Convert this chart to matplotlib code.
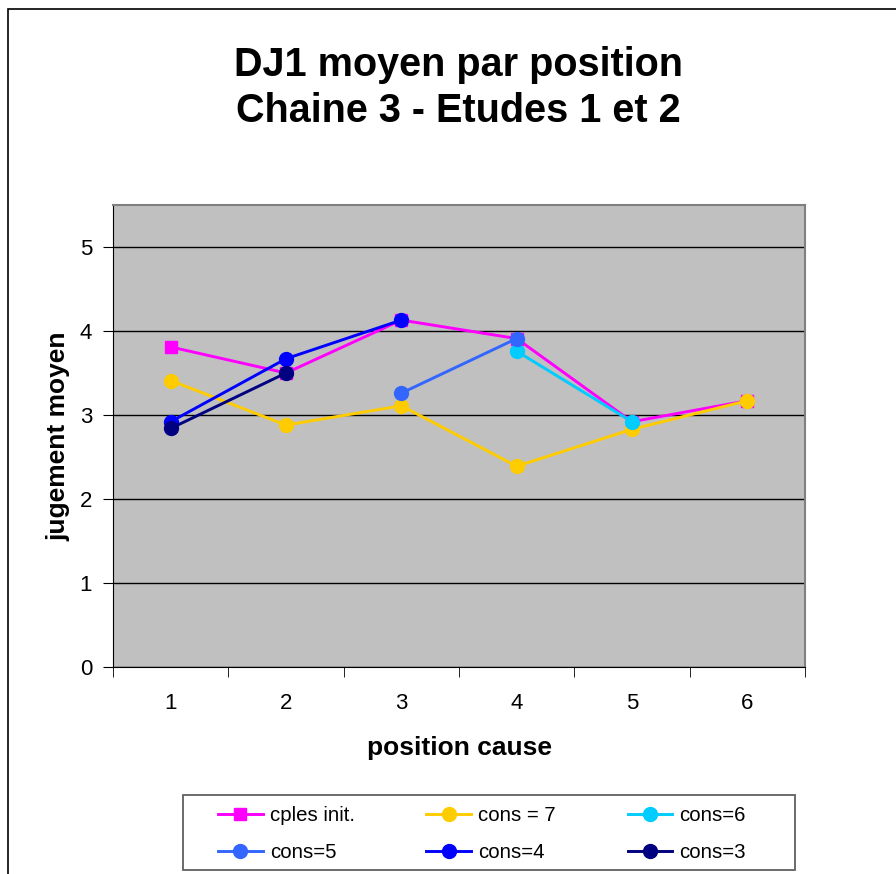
import numpy as np
import matplotlib
matplotlib.use("Agg")
import matplotlib.pyplot as plt
from matplotlib.patches import Rectangle

plt.rcParams["font.family"] = ["Liberation Sans", "DejaVu Sans"]

positions = [1, 2, 3, 4, 5, 6]
nan = np.nan

cples_init = [3.81, 3.50, 4.13, 3.91, 2.92, 3.17]
cons7 = [3.41, 2.88, 3.11, 2.39, 2.83, 3.17]
cons6 = [nan, nan, nan, 3.76, 2.92, nan]
cons5 = [nan, nan, 3.26, 3.91, nan, nan]
cons4 = [2.92, 3.67, 4.13, nan, nan, nan]
cons3 = [2.84, 3.50, nan, nan, nan, nan]

series_names = ["cples init.", "cons = 7", "cons=6", "cons=5", "cons=4", "cons=3"]
series_values = [cples_init, cons7, cons6, cons5, cons4, cons3]
series_colors = ["#FF00FF", "#FFCC00", "#00CCFF", "#3366FF", "#0000FF", "#000080"]
series_markers = ["s", "o", "o", "o", "o", "o"]


def main():
    fig = plt.figure(figsize=(8.96, 8.74), dpi=100)
    fig.patch.set_facecolor("white")

    # outer chart border (cropped on the right and bottom)
    fig.patches.append(Rectangle((8 / 896, -0.1), 1.2, 1 - 9 / 874 + 0.1,
                                 transform=fig.transFigure, fill=False,
                                 edgecolor="black", linewidth=1.2))

    ax = fig.add_axes([113 / 896, 1 - 667 / 874, 692 / 896, 462 / 874])
    ax.set_facecolor("#C0C0C0")

    handles = []
    for name, vals, col, mk in zip(series_names, series_values, series_colors, series_markers):
        ms = 9 if mk == "s" else 10
        h, = ax.plot(positions, vals, color=col, marker=mk, markersize=ms,
                     linewidth=2.1, label=name, zorder=3)
        handles.append(h)

    ax.set_xlim(0.5, 6.5)
    ax.set_ylim(0, 5.5)
    ax.set_yticks([0, 1, 2, 3, 4, 5])
    ax.yaxis.grid(True, color="black", linewidth=1)
    ax.set_axisbelow(True)

    ax.set_xticks(positions)
    ax.set_xticks(np.arange(0.5, 7, 1), minor=True)
    ax.tick_params(axis="x", which="major", length=0, pad=19, labelsize=16)
    ax.tick_params(axis="x", which="minor", length=7, direction="out")
    ax.tick_params(axis="y", length=7, direction="out", labelsize=16, pad=8)

    ax.spines["top"].set_color("#808080")
    ax.spines["right"].set_color("#808080")
    ax.spines["top"].set_linewidth(1.5)
    ax.spines["right"].set_linewidth(1.5)

    ax.set_xlabel("position cause", fontsize=19, fontweight="bold")
    ax.set_ylabel("jugement moyen", fontsize=19, fontweight="bold")
    ax.xaxis.set_label_coords(0.5, -0.15)
    ax.yaxis.set_label_coords(-0.062, 0.5)

    fig.text(458 / 896, 1 - 88 / 874, "DJ1 moyen par position\nChaine 3 - Etudes 1 et 2",
             ha="center", va="center", fontsize=28.5, fontweight="bold", linespacing=1.25)

    # legend frame drawn separately, entries row-major like the original
    fig.patches.append(Rectangle((183 / 896, 1 - 870 / 874), 612 / 896, 75 / 874,
                                 transform=fig.transFigure, fill=False,
                                 edgecolor="#606060", linewidth=1.3))
    order = [0, 3, 1, 4, 2, 5]
    fig.legend([handles[i] for i in order], [series_names[i] for i in order],
               ncol=3, loc="center", bbox_to_anchor=(482 / 896, 1 - 834 / 874),
               fontsize=14.7, frameon=False, handlelength=2.2,
               columnspacing=3.5, handletextpad=0.35, labelspacing=0.9)

    fig.savefig("out.png", dpi=100)


if __name__ == "__main__":
    main()
